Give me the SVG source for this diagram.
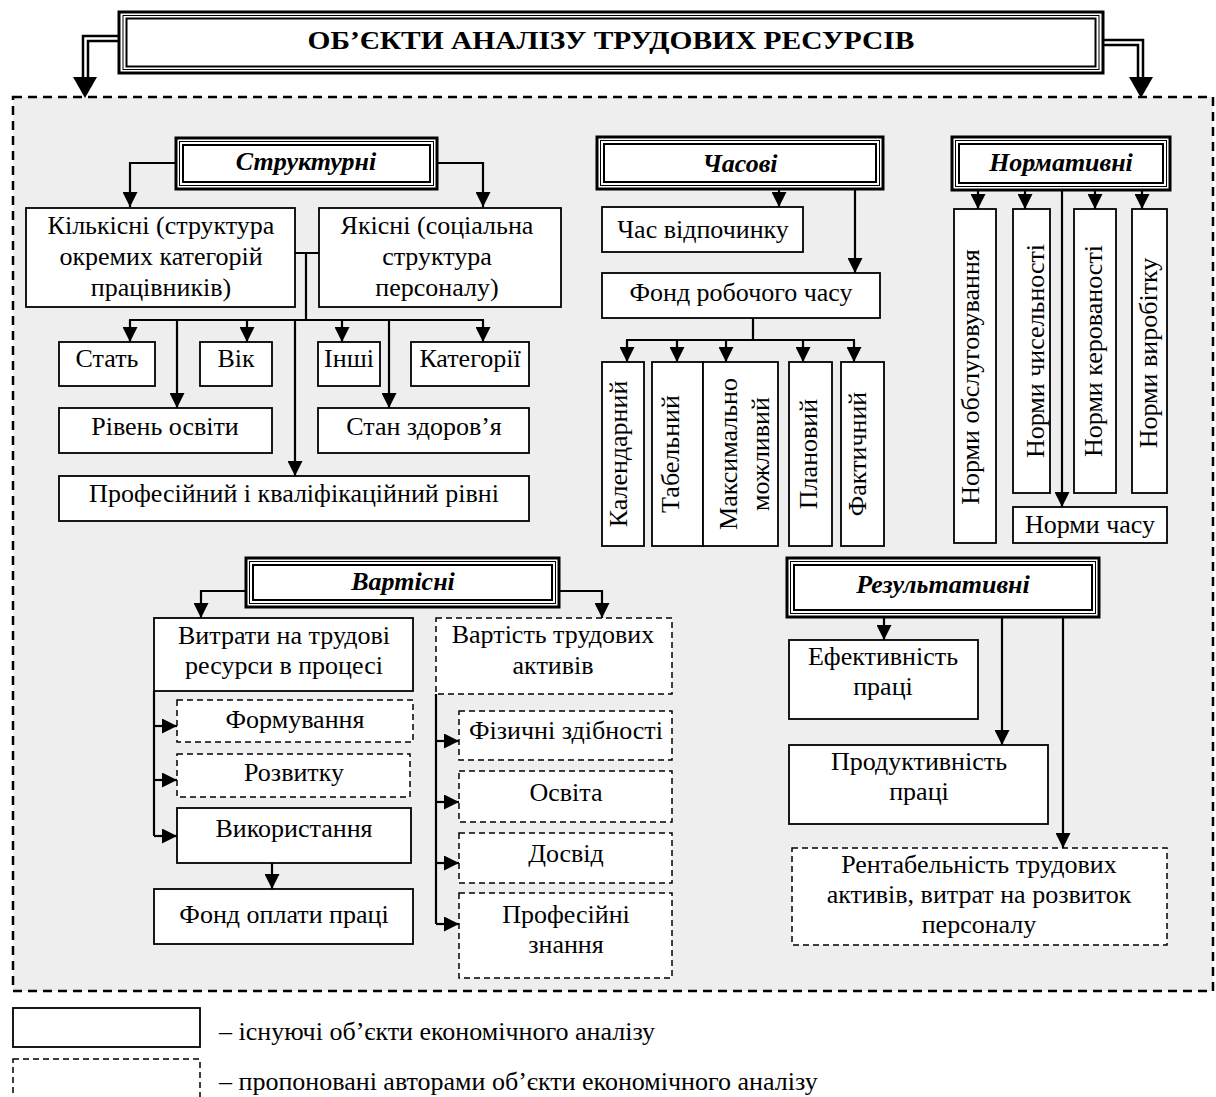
<svg xmlns="http://www.w3.org/2000/svg" width="1216" height="1097" viewBox="0 0 1216 1097">
  <defs>
    <style>
      .bg { fill: #eeeeee; stroke: #000; stroke-width: 2.5; stroke-dasharray: 9 6; }
      .box { fill: #fff; stroke: #000; stroke-width: 1.8; }
      .dbox { fill: #fff; stroke: #000; stroke-width: 1.5; stroke-dasharray: 6 4; }
      .ho { fill: #fff; stroke: #000; stroke-width: 3; }
      .hm { fill: none; stroke: #000; stroke-width: 1; }
      .hi { fill: none; stroke: #000; stroke-width: 2; }
      .t { font-family: "Liberation Serif", "Times New Roman", serif; font-size: 26px; text-anchor: middle; fill: #000; }
      .h { font-weight: bold; font-style: italic; }
      .lg { text-anchor: start; }
      .c { fill: none; stroke: #000; stroke-width: 2.2; }
      .ca { fill: none; stroke: #000; stroke-width: 2.2; marker-end: url(#arr); }
      .dl { fill: none; stroke: #000; stroke-width: 2.5; }
    </style>
    <marker id="arr" viewBox="0 0 16 16" refX="16" refY="8" markerWidth="16" markerHeight="15" markerUnits="userSpaceOnUse" orient="auto">
      <path d="M0,0 L16,8 L0,16 z" fill="#000"/>
    </marker>
  </defs>

  <!-- shaded field with dashed frame -->
  <rect class="bg" x="13" y="97" width="1200" height="894"/>

  <!-- title -->
  <g id="title">
    <rect class="ho" x="119" y="12" width="984" height="61" stroke-width="2.5"/>
    <rect class="hm" x="123" y="15.5" width="976" height="54"/>
    <rect class="hi" x="126.5" y="18.5" width="969" height="48" stroke-width="1.6"/>
    <text class="t" x="611" y="49" font-weight="bold" font-size="30" textLength="607" lengthAdjust="spacingAndGlyphs">ОБ’ЄКТИ АНАЛІЗУ ТРУДОВИХ РЕСУРСІВ</text>
  </g>

  <!-- connectors -->
  <g id="connectors">
    <!-- double lines from title -->
    <path class="dl" d="M119,36 H83 V78"/>
    <path class="dl" d="M119,41 H88 V78"/>
    <polygon points="73,77 97,77 85,98" fill="#000"/>
    <path class="dl" d="M1103,40 H1143 V78"/>
    <path class="dl" d="M1103,45 H1138 V78"/>
    <polygon points="1129,77 1153,77 1141,98" fill="#000"/>

    <!-- structural -->
    <path class="ca" d="M176,163 H130 V207"/>
    <path class="ca" d="M437,163 H483 V207"/>
    <path class="c" d="M295,253 H319 M306,253 V320 M129,320 H484"/>
    <path class="ca" d="M130,320 V342"/>
    <path class="ca" d="M247,320 V342"/>
    <path class="ca" d="M342,320 V342"/>
    <path class="ca" d="M483,320 V342"/>
    <path class="ca" d="M177,320 V408"/>
    <path class="ca" d="M389,320 V408"/>
    <path class="ca" d="M295,320 V476"/>

    <!-- time -->
    <path class="ca" d="M779,189 V207"/>
    <path class="ca" d="M855,189 V273"/>
    <path class="c" d="M753,318 V340 M626,340 H855"/>
    <path class="ca" d="M627,340 V362"/>
    <path class="ca" d="M677,340 V362"/>
    <path class="ca" d="M726,340 V362"/>
    <path class="ca" d="M803,340 V362"/>
    <path class="ca" d="M854,340 V362"/>

    <!-- normative -->
    <path class="ca" d="M978,190 V209"/>
    <path class="ca" d="M1025,190 V209"/>
    <path class="ca" d="M1095,190 V209"/>
    <path class="ca" d="M1142,190 V209"/>
    <path class="ca" d="M1062,190 V507"/>

    <!-- cost -->
    <path class="ca" d="M246,591 H201 V618"/>
    <path class="ca" d="M559,591 H602 V618"/>
    <path class="c" d="M154,691 V836"/>
    <path class="ca" d="M154,726 H177"/>
    <path class="ca" d="M154,780 H177"/>
    <path class="ca" d="M154,836 H177"/>
    <path class="ca" d="M272,863 V889"/>
    <path class="c" d="M436,694 V924"/>
    <path class="ca" d="M436,741 H459"/>
    <path class="ca" d="M436,802 H459"/>
    <path class="ca" d="M436,863 H459"/>
    <path class="ca" d="M436,924 H459"/>

    <!-- result -->
    <path class="ca" d="M884,617 V640"/>
    <path class="ca" d="M1002,617 V745"/>
    <path class="ca" d="M1063,617 V848"/>
  </g>

  <!-- structural group -->
  <g id="hdr-structural">
    <rect class="ho" x="176" y="138" width="261" height="51"/>
    <rect class="hm" x="179.5" y="141.5" width="254" height="44"/>
    <rect class="hi" x="183" y="145" width="247" height="37"/>
    <text class="t h" x="306" y="170">Структурні</text>
  </g>
  <g id="n-kilkisni">
    <rect class="box" x="26" y="208" width="269" height="99"/>
    <text class="t" x="161" y="234">Кількісні (структура</text>
    <text class="t" x="161" y="265">окремих категорій</text>
    <text class="t" x="161" y="296">працівників)</text>
  </g>
  <g id="n-yakisni">
    <rect class="box" x="319" y="208" width="242" height="99"/>
    <text class="t" x="437" y="234">Якісні (соціальна</text>
    <text class="t" x="437" y="265">структура</text>
    <text class="t" x="437" y="296">персоналу)</text>
  </g>
  <g id="n-stat"><rect class="box" x="59" y="342" width="96" height="44"/><text class="t" x="107" y="367">Стать</text></g>
  <g id="n-vik"><rect class="box" x="200" y="342" width="72" height="44"/><text class="t" x="236" y="367">Вік</text></g>
  <g id="n-inshi"><rect class="box" x="318" y="342" width="62" height="44"/><text class="t" x="349" y="367">Інші</text></g>
  <g id="n-katehorii"><rect class="box" x="411" y="342" width="118" height="44"/><text class="t" x="470" y="367">Категорії</text></g>
  <g id="n-osvita-riven"><rect class="box" x="59" y="408" width="213" height="45"/><text class="t" x="165" y="435">Рівень освіти</text></g>
  <g id="n-zdorovia"><rect class="box" x="318" y="408" width="211" height="45"/><text class="t" x="424" y="435">Стан здоров’я</text></g>
  <g id="n-prof-riven"><rect class="box" x="59" y="476" width="470" height="45"/><text class="t" x="294" y="502">Професійний і кваліфікаційний рівні</text></g>

  <!-- time group -->
  <g id="hdr-time">
    <rect class="ho" x="597" y="137" width="286" height="52"/>
    <rect class="hm" x="600.5" y="140.5" width="279" height="45"/>
    <rect class="hi" x="604" y="144" width="272" height="38"/>
    <text class="t h" x="740" y="172">Часові</text>
  </g>
  <g id="n-vidpochynok"><rect class="box" x="602" y="207" width="201" height="45"/><text class="t" x="703" y="238">Час відпочинку</text></g>
  <g id="n-fond-chasu"><rect class="box" x="602" y="273" width="278" height="45"/><text class="t" x="741" y="301">Фонд робочого часу</text></g>
  <g id="n-kalendarnyi"><rect class="box" x="602" y="362" width="42" height="184"/><text class="t" transform="translate(627,454) rotate(-90)">Календарний</text></g>
  <g id="n-tabelnyi"><rect class="box" x="652" y="362" width="51" height="184"/><text class="t" transform="translate(679,454) rotate(-90)">Табельний</text></g>
  <g id="n-maks"><rect class="box" x="703" y="362" width="75" height="184"/><text class="t" transform="translate(737,454) rotate(-90)">Максимально</text><text class="t" transform="translate(769,454) rotate(-90)">можливий</text></g>
  <g id="n-planovyi"><rect class="box" x="789" y="362" width="43" height="184"/><text class="t" transform="translate(817,454) rotate(-90)">Плановий</text></g>
  <g id="n-faktychnyi"><rect class="box" x="841" y="362" width="43" height="184"/><text class="t" transform="translate(866,454) rotate(-90)">Фактичний</text></g>

  <!-- normative group -->
  <g id="hdr-normative">
    <rect class="ho" x="952" y="137" width="218" height="53"/>
    <rect class="hm" x="955.5" y="140.5" width="211" height="46"/>
    <rect class="hi" x="959" y="144" width="204" height="39"/>
    <text class="t h" x="1061" y="171">Нормативні</text>
  </g>
  <g id="n-obslug"><rect class="box" x="954" y="209" width="42" height="334"/><text class="t" transform="translate(979,377) rotate(-90)">Норми обслуговування</text></g>
  <g id="n-chyseln"><rect class="box" x="1013" y="209" width="37" height="284"/><text class="t" transform="translate(1044,351) rotate(-90)">Норми чисельності</text></g>
  <g id="n-kerov"><rect class="box" x="1074" y="209" width="42" height="284"/><text class="t" transform="translate(1102,351) rotate(-90)">Норми керованості</text></g>
  <g id="n-vyrob"><rect class="box" x="1132" y="209" width="35" height="284"/><text class="t" transform="translate(1157,353) rotate(-90)">Норми виробітку</text></g>
  <g id="n-chasu"><rect class="box" x="1013" y="507" width="154" height="36"/><text class="t" x="1090" y="533">Норми часу</text></g>

  <!-- cost group -->
  <g id="hdr-cost">
    <rect class="ho" x="246" y="558" width="313" height="49"/>
    <rect class="hm" x="249.5" y="561.5" width="306" height="42"/>
    <rect class="hi" x="253" y="565" width="299" height="35"/>
    <text class="t h" x="403" y="590">Вартісні</text>
  </g>
  <g id="n-vytraty"><rect class="box" x="154" y="618" width="259" height="73"/><text class="t" x="284" y="644">Витрати на трудові</text><text class="t" x="284" y="674">ресурси в процесі</text></g>
  <g id="n-vartist"><rect class="dbox" x="436" y="618" width="236" height="76"/><text class="t" x="553" y="643">Вартість трудових</text><text class="t" x="553" y="674">активів</text></g>
  <g id="n-formuv"><rect class="dbox" x="177" y="700" width="236" height="42"/><text class="t" x="295" y="728">Формування</text></g>
  <g id="n-rozvytok"><rect class="dbox" x="177" y="754" width="233" height="43"/><text class="t" x="294" y="781">Розвитку</text></g>
  <g id="n-vykoryst"><rect class="box" x="177" y="808" width="234" height="55"/><text class="t" x="294" y="837">Використання</text></g>
  <g id="n-fop"><rect class="box" x="154" y="889" width="259" height="55"/><text class="t" x="284" y="923">Фонд оплати праці</text></g>
  <g id="n-fizychni"><rect class="dbox" x="459" y="711" width="213" height="49"/><text class="t" x="566" y="739">Фізичні здібності</text></g>
  <g id="n-osvita"><rect class="dbox" x="459" y="771" width="213" height="51"/><text class="t" x="566" y="801">Освіта</text></g>
  <g id="n-dosvid"><rect class="dbox" x="459" y="833" width="213" height="50"/><text class="t" x="566" y="862">Досвід</text></g>
  <g id="n-znannia"><rect class="dbox" x="459" y="893" width="213" height="85"/><text class="t" x="566" y="923">Професійні</text><text class="t" x="566" y="953">знання</text></g>

  <!-- result group -->
  <g id="hdr-result">
    <rect class="ho" x="787" y="558" width="312" height="59"/>
    <rect class="hm" x="790.5" y="561.5" width="305" height="52"/>
    <rect class="hi" x="794" y="565" width="298" height="45"/>
    <text class="t h" x="943" y="593">Результативні</text>
  </g>
  <g id="n-efekt"><rect class="box" x="789" y="640" width="189" height="79"/><text class="t" x="883" y="665">Ефективність</text><text class="t" x="883" y="695">праці</text></g>
  <g id="n-produkt"><rect class="box" x="789" y="745" width="259" height="79"/><text class="t" x="919" y="770">Продуктивність</text><text class="t" x="919" y="800">праці</text></g>
  <g id="n-rentab"><rect class="dbox" x="792" y="848" width="375" height="97"/><text class="t" x="979" y="873">Рентабельність трудових</text><text class="t" x="979" y="903">активів, витрат на розвиток</text><text class="t" x="979" y="933">персоналу</text></g>

  <!-- legend -->
  <g id="legend">
    <rect class="box" x="13" y="1008" width="187" height="39"/>
    <text class="t lg" x="219" y="1040">– існуючі об’єкти економічного аналізу</text>
    <rect class="dbox" x="13" y="1059" width="187" height="40"/>
    <text class="t lg" x="219" y="1090">– пропоновані авторами об’єкти економічного аналізу</text>
  </g>
</svg>
